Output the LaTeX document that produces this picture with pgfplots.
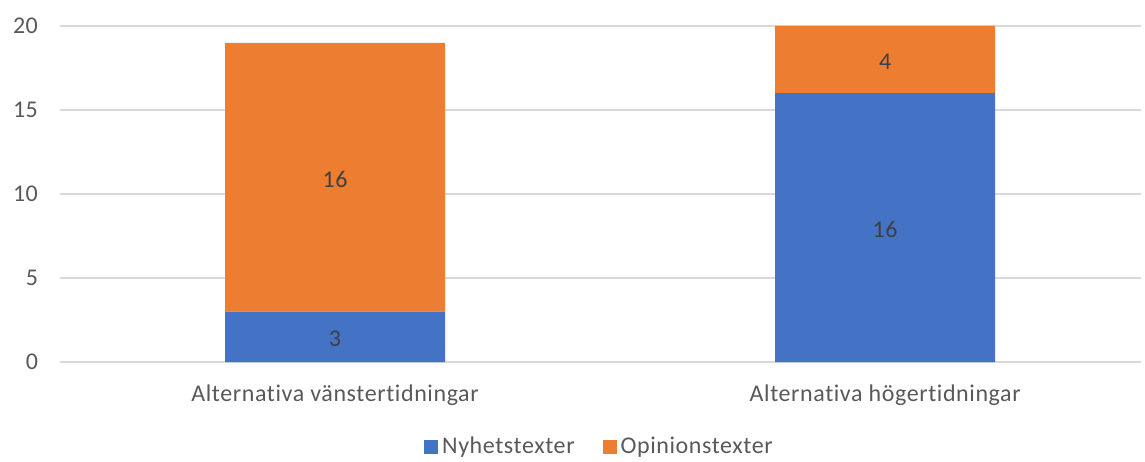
\documentclass[border=0pt]{standalone}
\usepackage{fontspec}
\setmainfont{Carlito}[LetterSpace=2.5, Ligatures={NoCommon}]
\usepackage{pgfplots}
\pgfplotsset{compat=1.18}
\definecolor{cblue}{HTML}{4472C4}
\definecolor{corange}{HTML}{ED7D31}
\definecolor{cgrid}{HTML}{D9D9D9}
\definecolor{ctext}{HTML}{595959}
\definecolor{clabel}{HTML}{404040}
\pgfplotsset{
  common/.style={
    at={(0,0)}, anchor=south west,
    scale only axis,
    width=540.5pt, height=168pt,
    xmin=-0.5, xmax=1.465,
    ymin=0, ymax=20,
  }
}
\begin{document}
\begin{tikzpicture}
\useasboundingbox (-30pt,-49.5pt) rectangle (542.5pt,181pt);
\begin{axis}[
  common,
  ybar stacked,
  bar width=110pt,
  ytick={0,5,10,15,20},
  xtick={0,1},
  xticklabels={Alternativa vänstertidningar, Alternativa högertidningar},
  axis line style={draw=none},
  major tick length=0pt,
  ymajorgrids,
  grid style={cgrid, line width=0.8pt},
  font=\fontsize{12}{14}\selectfont,
  tick label style={text=ctext},
  /pgf/number format/assume math mode=true,
  yticklabel style={xshift=-7.5pt},
  xticklabel style={yshift=-8pt},
  legend style={at={(0.5,-0.253)}, anchor=center, draw=none, legend columns=2, text=ctext, font=\fontsize{12}{14}\selectfont,
    /tikz/every even column/.append style={column sep=12pt}},
  legend image code/.code={\fill[#1,draw=none] (0pt,-3.5pt) rectangle (7pt,3.5pt);},
]
\addplot[fill=cblue, draw=none] coordinates {(0,3) (1,16)};
\addplot[fill=corange, draw=none] coordinates {(0,16) (1,4)};
\legend{Nyhetstexter, Opinionstexter}
\end{axis}
\begin{axis}[
  common,
  hide axis,
]
\addplot[draw=none, mark=none, nodes near coords, point meta=explicit symbolic,
  nodes near coords align={center},
  every node near coord/.append style={anchor=center, text=clabel, font=\fontsize{12}{14}\selectfont, yshift=-1pt}]
  coordinates {(0,1.5)[3] (0,11)[16] (1,8)[16] (1,18)[4]};
\end{axis}
\end{tikzpicture}
\end{document}
